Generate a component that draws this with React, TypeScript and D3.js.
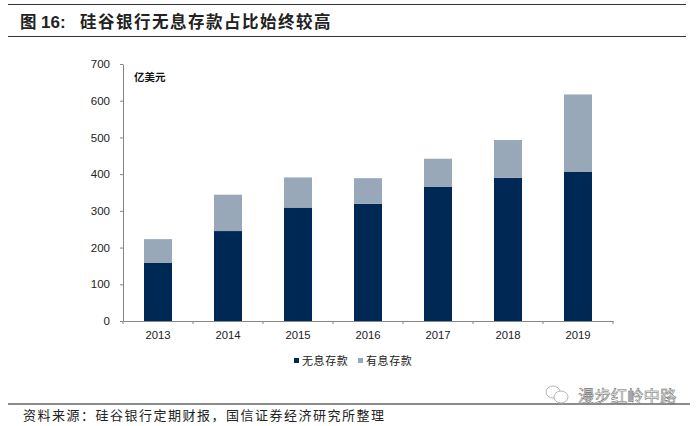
import React, { useRef, useEffect } from 'react';
import * as d3 from 'd3';

const years = ['2013', '2014', '2015', '2016', '2017', '2018', '2019'];
const nonInterest = [159, 245, 309, 319, 366, 390, 407];
const interest = [64, 99, 82, 70, 76, 103, 210];
const yTicks = [0, 100, 200, 300, 400, 500, 600, 700];
const seriesNames = ['无息存款', '有息存款'];
const seriesColors = ['#002855', '#98a8b9'];

const cjk = '"Noto Sans CJK SC", sans-serif';
const latin = '"Liberation Sans", Arial, sans-serif';

const App: React.FC = () => {
    const svgRef = useRef<SVGSVGElement | null>(null);
    const width = 700;
    const height = 426;
    const margin = { top: 64, right: 87, bottom: 105, left: 123 };

    useEffect(() => {
        if (!svgRef.current) return;

        const svg = d3.select(svgRef.current);
        svg.selectAll('*').remove();
        svg.attr('viewBox', `0 0 ${width} ${height}`);

        svg.append('rect').attr('width', width).attr('height', height).attr('fill', '#fff');

        // Title and rules
        svg.append('line').attr('x1', 8).attr('x2', 686).attr('y1', 4.5).attr('y2', 4.5).attr('stroke', '#333').attr('stroke-width', 1);
        svg.append('line').attr('x1', 8).attr('x2', 686).attr('y1', 36.5).attr('y2', 36.5).attr('stroke', '#333').attr('stroke-width', 1);
        svg.append('text').attr('x', 20).attr('y', 27.5).attr('fill', '#222').attr('font-weight', 700).attr('font-size', 16.5).attr('font-family', cjk).text('图');
        svg.append('text').attr('x', 41).attr('y', 27.5).attr('fill', '#222').attr('font-weight', 700).attr('font-size', 17).attr('font-family', latin).text('16:');
        svg.append('text').attr('x', 80).attr('y', 27.5).attr('fill', '#222').attr('font-weight', 700).attr('font-size', 16.5).attr('letter-spacing', 1.5).attr('font-family', cjk).text('硅谷银行无息存款占比始终较高');

        const x = d3.scaleBand<string>()
            .domain(years)
            .range([margin.left, width - margin.right])
            .paddingInner(0.6)
            .paddingOuter(0.3);

        const y = d3.scaleLinear()
            .domain([0, 700])
            .range([height - margin.bottom, margin.top]);

        // Stacked bars
        const rows = years.map((year, i) => ({ year, a: nonInterest[i], b: interest[i] }));
        const stacked = d3.stack<any>().keys(['a', 'b'])(rows);
        stacked.forEach((layer, k) => {
            svg.append('g')
                .selectAll('rect')
                .data(layer)
                .join('rect')
                .attr('x', d => x(d.data.year)!)
                .attr('y', d => y(d[1]))
                .attr('width', x.bandwidth())
                .attr('height', d => y(d[0]) - y(d[1]))
                .attr('fill', seriesColors[k]);
        });

        // Axes
        const step = x.step();
        const xAxis = svg.append('g').attr('transform', `translate(0,${height - margin.bottom})`);
        xAxis.call(d3.axisBottom(x).tickSize(0).tickPadding(10));
        xAxis.select('.domain').attr('stroke', '#868686').attr('stroke-width', 1);
        xAxis.selectAll('text').attr('font-family', latin).attr('font-size', 11.3).attr('fill', '#222');
        xAxis.selectAll('line.sep')
            .data(d3.range(years.length + 1))
            .join('line')
            .attr('class', 'sep')
            .attr('x1', d => margin.left + d * step)
            .attr('x2', d => margin.left + d * step)
            .attr('y1', 0)
            .attr('y2', 3)
            .attr('stroke', '#868686');

        const yAxis = svg.append('g').attr('transform', `translate(${margin.left},0)`);
        yAxis.call(d3.axisLeft(y).tickValues(yTicks).tickSize(3).tickPadding(10).tickSizeOuter(0));
        yAxis.select('.domain').attr('stroke', '#868686').attr('stroke-width', 1);
        yAxis.selectAll('line').attr('stroke', '#868686');
        yAxis.selectAll('text').attr('font-family', latin).attr('font-size', 11.5).attr('fill', '#222');

        svg.append('text').attr('x', 134).attr('y', 81).attr('font-family', cjk).attr('font-weight', 700).attr('font-size', 10.5).attr('fill', '#111').text('亿美元');

        // Legend
        const legendX = [294, 358];
        seriesNames.forEach((name, i) => {
            svg.append('rect').attr('x', legendX[i]).attr('y', 358).attr('width', 5).attr('height', 5).attr('fill', seriesColors[i]);
            svg.append('text').attr('x', legendX[i] + 8).attr('y', 365).attr('font-family', cjk).attr('font-size', 11).attr('letter-spacing', 0.6).attr('fill', '#222').text(name);
        });

        // Footer
        svg.append('line').attr('x1', 8).attr('x2', 690).attr('y1', 404).attr('y2', 404).attr('stroke', '#666').attr('stroke-width', 1.5);
        svg.append('text').attr('x', 23).attr('y', 420).attr('font-family', cjk).attr('font-size', 13).attr('letter-spacing', 1.5).attr('fill', '#222').text('资料来源\uFF1A硅谷银行定期财报\uFF0C国信证券经济研究所整理');

        // Watermark
        const mark = svg.append('g').attr('fill', 'none').attr('stroke', '#b5b5b5');
        mark.append('ellipse').attr('cx', 553).attr('cy', 392).attr('rx', 7).attr('ry', 6);
        mark.append('ellipse').attr('cx', 561).attr('cy', 397).attr('rx', 7).attr('ry', 6).attr('fill', '#fff');
        svg.append('text').attr('x', 578).attr('y', 402).attr('font-family', cjk).attr('font-size', 16.4).attr('fill', '#fff').attr('stroke', '#666').attr('stroke-width', 0.5).text('漫步红岭中路');
    }, []);

    return <svg ref={svgRef} width={width} height={height} style={{ position: 'absolute', left: 0, top: 0 }}></svg>;
};

export default App;
